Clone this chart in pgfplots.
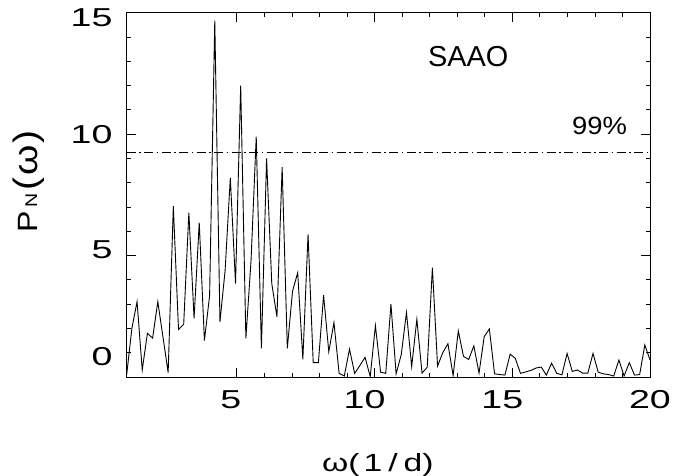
\documentclass[border=0pt]{standalone}
\usepackage{fontspec}
\setmainfont{Liberation Sans}
\newfontfamily\tickfont{Liberation Sans}[FakeStretch=1.45]
\newfontfamily\labfont{Liberation Sans}[FakeStretch=1.15]
\newfontfamily\xlabfont{Liberation Sans}[FakeStretch=1.35]
\newfontfamily\annfont{Liberation Sans}[FakeStretch=1.1]
\usepackage{pgfplots}
\pgfplotsset{compat=1.18}
\newcommand\rl[2]{\raisebox{#1}[\height][\depth]{#2}}
\pgfplotstableread{
x y
1.000 0.10
1.188 2.00
1.376 3.10
1.564 0.29
1.752 1.80
1.941 1.60
2.129 3.10
2.317 1.65
2.505 0.18
2.693 7.03
2.881 1.96
3.069 2.17
3.257 6.77
3.446 2.41
3.634 6.36
3.822 1.50
4.010 3.35
4.198 14.67
4.386 2.27
4.574 4.40
4.762 8.20
4.951 3.85
5.139 12.00
5.327 1.59
5.515 4.80
5.703 9.90
5.891 1.18
6.079 9.00
6.267 3.85
6.455 2.48
6.644 8.64
6.832 1.18
7.020 3.53
7.208 4.29
7.396 0.73
7.584 5.87
7.772 0.59
7.960 0.59
8.149 3.37
8.337 1.04
8.525 2.24
8.713 0.15
8.901 0.04
9.089 1.15
9.277 0.15
9.465 0.47
9.654 0.81
9.842 0.02
10.030 2.12
10.218 0.20
10.406 0.15
10.594 3.00
10.782 0.13
10.970 0.93
11.158 2.66
11.347 0.43
11.535 2.38
11.723 0.16
11.911 0.40
12.099 4.50
12.287 0.45
12.475 1.00
12.663 1.37
12.852 0.06
13.040 1.90
13.228 0.85
13.416 0.72
13.604 1.28
13.792 0.16
13.980 1.66
14.168 1.98
14.356 0.13
14.545 0.10
14.733 0.08
14.921 0.94
15.109 0.77
15.297 0.15
15.485 0.21
15.673 0.27
15.861 0.37
16.050 0.41
16.238 0.08
16.426 0.57
16.614 0.15
16.802 0.09
16.990 0.97
17.178 0.23
17.366 0.29
17.554 0.16
17.743 0.16
17.931 0.97
18.119 0.20
18.307 0.13
18.495 0.10
18.683 0.04
18.871 0.70
19.059 0.04
19.248 0.59
19.436 0.08
19.624 0.10
19.812 1.32
20.000 0.70
}\pdata
\begin{document}
\begin{tikzpicture}
\begin{axis}[
  scale only axis, width=523.3bp, height=364.3bp,
  xmin=1, xmax=20, ymin=0, ymax=15,
  xtick={5,10,15,20}, ytick={0,5,10,15},
  minor x tick num=4, minor y tick num=4,
  xticklabels={\kern-12bp 5,\kern-20bp 10,\kern-20bp 15,20},
  yticklabels={\rl{20bp}{0},\rl{6bp}{5},10,\rl{-5bp}{15}},
  major tick length=9.5bp, minor tick length=4.5bp,
  every tick/.style={black, line width=0.8bp},
  axis line style={black, line width=0.9bp},
  tick label style={font=\tickfont\fontsize{26}{26}\selectfont, inner sep=0pt},
  xticklabel shift=13bp, yticklabel shift=14bp,
  xlabel={\xlabfont\fontsize{25}{25}\selectfont ω(\kern4bp 1\kern6bp/\kern6bp d)},
  xlabel style={at={(axis description cs:0.48,0)}, anchor=base, yshift=-94bp, inner sep=0pt},
  ylabel={\labfont\fontsize{28}{28}\selectfont P\kern3bp{\fontsize{17}{17}\selectfont N}\kern3bp{\fontsize{34}{34}\selectfont(\kern2bp ω\kern2bp)}},
  ylabel style={at={(axis description cs:-0.1714,0.537)}, anchor=base, inner sep=0pt},
]
\addplot[black, line width=0.9bp] table[x=x, y=y] {\pdata};
\addplot[black, line width=0.8bp, dash pattern=on 9bp off 3.5bp on 1.5bp off 3.5bp] coordinates {(1,9.25) (20,9.25)};
\node[font=\fontsize{29}{29}\selectfont] at (axis cs:13.40,13.21) {SAAO};
\node[font=\annfont\fontsize{25}{25}\selectfont] at (axis cs:18.17,10.32) {99\%};
\end{axis}
\pgfresetboundingbox
\useasboundingbox (-126.7bp,-99bp) rectangle (558.3bp,377bp);
\end{tikzpicture}
\end{document}
